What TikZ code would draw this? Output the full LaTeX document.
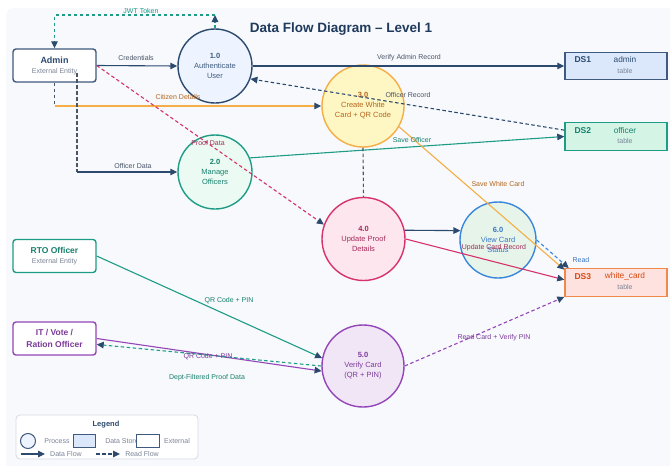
\documentclass[tikz,border=0pt]{standalone}
\usepackage{fontspec}
\setmainfont{Liberation Sans}
\usetikzlibrary{arrows.meta}

\definecolor{navyc}{HTML}{2C4A6E}
\definecolor{navyb}{HTML}{3F5A7E}
\definecolor{titlec}{HTML}{1F3A5C}
\definecolor{panelc}{HTML}{F7F9FC}
\definecolor{grayc}{HTML}{7A8496}
\definecolor{lblc}{HTML}{4A5568}
\definecolor{tealc}{HTML}{1E9C85}
\definecolor{teald}{HTML}{17806D}
\definecolor{orangec}{HTML}{F5AE45}
\definecolor{brownc}{HTML}{B5651D}
\definecolor{crimc}{HTML}{D6336C}
\definecolor{crimd}{HTML}{A52A5A}
\definecolor{purpc}{HTML}{9446B8}
\definecolor{purpd}{HTML}{7B3A9A}
\definecolor{bluec}{HTML}{3A86DA}
\definecolor{blued}{HTML}{3A78C4}
\definecolor{redc}{HTML}{F0894A}
\definecolor{redd}{HTML}{D9480F}
\definecolor{legbord}{HTML}{D5DAE2}
\definecolor{p1fill}{HTML}{EEF4FF}
\definecolor{p2fill}{HTML}{EBFBF3}
\definecolor{p3fill}{HTML}{FEF6C3}
\definecolor{p4fill}{HTML}{FDE6EE}
\definecolor{p5fill}{HTML}{F1E6F6}
\definecolor{p6fill}{HTML}{E6F4EA}
\definecolor{ds1fill}{HTML}{DBE8FB}
\definecolor{ds2fill}{HTML}{D4F5E6}
\definecolor{ds3fill}{HTML}{FDE2DF}

\begin{document}
\begin{tikzpicture}[x=1pt,y=-1pt,
  >={Triangle[length=7pt,width=6.5pt,color=navyc]},
  flow/.style={->,line width=1.1pt},
  readflow/.style={->,line width=1.1pt,dash pattern=on 3.5pt off 2.5pt},
  dashln/.style={line width=1.1pt,dash pattern=on 3.5pt off 2.5pt},
  proc/.style={circle,line width=1.4pt,inner sep=0pt,align=center,font=\fontsize{7.5}{10}\selectfont},
  entity/.style={rectangle,rounded corners=3pt,line width=1.4pt,fill=white,minimum width=83pt,minimum height=33pt},
  store/.style={rectangle,line width=1.4pt,minimum width=102pt,minimum height=27.5pt},
  lbl/.style={font=\fontsize{7}{8}\selectfont,inner sep=0pt},
  small/.style={font=\fontsize{7}{8}\selectfont,inner sep=0pt,text=grayc}]

\useasboundingbox (0,0) rectangle (670,466);
\fill[white] (0,0) rectangle (670,466);
\fill[panelc,rounded corners=8pt] (6,8) rectangle (680,480);

\node[font=\bfseries\fontsize{13.5}{16}\selectfont,text=titlec] (title) at (341,29) {Data Flow Diagram – Level 1};

% external entities
\node[entity,draw=navyb] (admin) at (54.5,65.5) {};
\node[font=\bfseries\fontsize{9}{11}\selectfont,text=navyc] (adminnm) at (54.5,60) {Admin};
\node[small] (admintp) at (54.5,72) {External Entity};
\node[entity,draw=tealc] (rto) at (54.5,256) {};
\node[font=\bfseries\fontsize{8.5}{11}\selectfont,text=teald] (rtonm) at (54.5,250) {RTO Officer};
\node[small] (rtotp) at (54.5,262) {External Entity};
\node[entity,draw=purpc] (it) at (54.5,338.5) {};
\node[font=\bfseries\fontsize{8.5}{11.5}\selectfont,text=purpd,align=center] (itnm) at (54.5,338.5) {IT / Vote /\\Ration Officer};

% processes
\node[proc,draw=navyc,fill=p1fill,minimum size=74pt,text=navyb] (p1) at (215,66) {\textbf{1.0}\\Authenticate\\User};
\node[proc,draw=tealc,fill=p2fill,minimum size=74pt,text=teald] (p2) at (215,172) {\textbf{2.0}\\Manage\\Officers};
\node[proc,draw=orangec,fill=p3fill,minimum size=82pt,text=brownc] (p3) at (363,106) {\textbf{3.0}\\Create White\\Card + QR Code};
\node[proc,draw=crimc,fill=p4fill,minimum size=83pt,text=crimd] (p4) at (363.5,239) {\textbf{4.0}\\Update Proof\\Details};
\node[proc,draw=purpc,fill=p5fill,minimum size=82pt,text=purpd] (p5) at (363,366) {\textbf{5.0}\\Verify Card\\(QR + PIN)};
\node[proc,draw=bluec,fill=p6fill,minimum size=76pt,text=blued] (p6) at (498,240) {\textbf{6.0}\\View Card\\Status};

% data stores
\foreach \n/\y/\nm/\fl/\dr/\tx in {1/66/admin/ds1fill/navyb/navyc, 2/136.5/officer/ds2fill/tealc/teald, 3/282.5/white\_card/ds3fill/redc/redd}{
  \node[store,fill=\fl,draw=\dr] (ds\n) at (616,\y) {};
  \node[font=\bfseries\fontsize{8.5}{10}\selectfont,text=\tx,anchor=west] (ds\n id) at (571,\y-6) {DS\n};
  \node[font=\fontsize{8.3}{10}\selectfont,text=\tx] (ds\n nm) at (625,\y-6) {\nm};
  \node[small] (ds\n tb) at (625,\y+4.5) {table};
}

% flows
\coordinate (jwtup) at (215,15);
\draw[readflow,tealc] (p1.north) -- (jwtup);
\draw[readflow,tealc] (jwtup) -| (admin.north);
\draw[flow,navyc] (admin.east) -- (p1.west);
\draw[flow,navyc] (p1.east) -- (ds1.west);
\draw[readflow,navyc] (ds2.173) -- (p1.-20);
\coordinate (citz) at (admin.south |- p3.west);
\draw[dashln,lblc] (admin.south) -- (citz);
\draw[flow,orangec] (citz) -- (p3.west);
\coordinate (offtop) at (77,73);
\coordinate (offbend) at (offtop |- p2.west);
\draw[dashln,lblc] (offtop) -- (offbend);
\draw[flow,navyc] (offbend) -- (p2.west);
\draw[readflow,crimc] (admin.east) -- (p4.160);
\draw[flow,tealc] (p2.22) -- (ds2.west);
\draw[dashln,lblc] (p3.south) -- (p4.north);
\draw[flow,orangec] (p3.-30) -- (ds3.166);
\draw[flow,navyc] (p4.12) -- (p6.166);
\draw[flow,crimc] (p4.east) -- (ds3.177);
\draw[readflow,bluec] (p6.east) -- (ds3.163);
\draw[flow,tealc] (rto.east) -- (p5.169);
\draw[flow,purpc] (it.east) -- (p5.187);
\draw[readflow,tealc] (p5.west) -- (it.-8);
\draw[readflow,purpc] (p5.east) -- (ds3.south west);

% flow labels
\node[lbl,text=tealc] (ljwt) at (141,11) {JWT Token};
\node[lbl,text=lblc] (lcred) at (136,58) {Credentials};
\node[lbl,text=lblc] (lverify) at (409,58) {Verify Admin Record};
\node[lbl,text=lblc] (lofrec) at (408,95) {Officer Record};
\node[lbl,text=brownc] (lcitz) at (178,97) {Citizen Details};
\node[lbl,text=lblc] (lofdata) at (133,166) {Officer Data};
\node[lbl,text=crimd] (lproof) at (208,143) {Proof Data};
\node[lbl,text=teald] (lsaveof) at (412,140) {Save Officer};
\node[lbl,text=brownc] (lsavewc) at (498,184) {Save White Card};
\node[lbl,text=blued] (lread) at (581,260) {Read};
\node[lbl,text=crimd] (lupd) at (494,248) {Update Card Record};
\node[lbl,text=teald] (lqrrto) at (229,301) {QR Code + PIN};
\node[lbl,text=purpd] (lqrit) at (208,357) {QR Code + PIN};
\node[lbl,text=teald] (ldept) at (207,378) {Dept-Filtered Proof Data};
\node[lbl,text=purpd] (lrcard) at (494,338) {Read Card + Verify PIN};

% legend
\node[draw=legbord,fill=white,rounded corners=4pt,line width=0.8pt,minimum width=182pt,minimum height=44pt] (legend) at (107,437) {};
\node[font=\bfseries\fontsize{7.5}{9}\selectfont,text=navyc] (legtitle) at (106,425) {Legend};
\node[circle,draw=navyb,fill=p1fill,line width=1pt,minimum size=15pt,inner sep=0pt] (legproc) at (28,441) {};
\node[small] (legproctx) at (57,441) {Process};
\node[draw=navyb,fill=ds1fill,line width=1pt,minimum width=22pt,minimum height=13pt] (legstore) at (84,441) {};
\node[small] (legstoretx) at (122,441) {Data Store};
\node[draw=navyb,fill=white,line width=1pt,minimum width=23pt,minimum height=13pt] (legext) at (147.5,441) {};
\node[small] (legexttx) at (177,441) {External};
\coordinate (legfa) at (21,454);
\coordinate (legfb) at (45,454);
\draw[flow,navyc] (legfa) -- (legfb);
\node[small] (legflowtx) at (66,454) {Data Flow};
\coordinate (legra) at (96,454);
\coordinate (legrb) at (120,454);
\draw[readflow,navyc] (legra) -- (legrb);
\node[small] (legreadtx) at (142,454) {Read Flow};
\end{tikzpicture}
\end{document}
